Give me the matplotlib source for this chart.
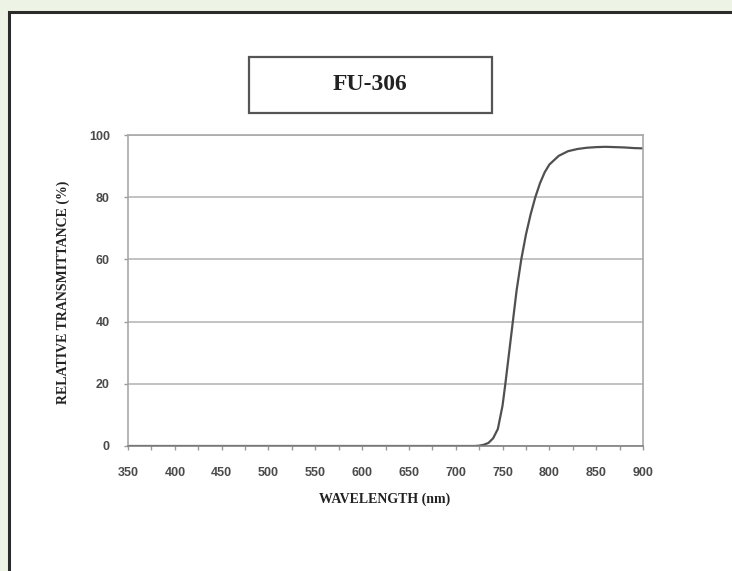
import matplotlib
matplotlib.use('Agg')
import matplotlib.pyplot as plt
from matplotlib.patches import Rectangle
from matplotlib.ticker import MultipleLocator

# transmittance curve
wavelength = [350, 400, 450, 500, 550, 600, 650, 700, 720, 725, 730, 735, 740, 745,
              750, 753, 757, 761, 765, 770, 775, 780, 785, 790, 795, 800, 810,
              820, 830, 840, 850, 860, 870, 880, 890, 900]
transmittance = [0, 0, 0, 0, 0, 0, 0, 0, 0, 0.1, 0.4, 1.0, 2.5, 5.5,
                 13, 20, 30, 40, 50, 60, 68, 74.5, 80, 84.5, 88, 90.5, 93.3,
                 94.8, 95.5, 95.9, 96.1, 96.2, 96.1, 96, 95.8, 95.7]

x_ticks = list(range(350, 901, 50))
y_ticks = [0, 20, 40, 60, 80, 100]

W, H = 732, 571
fig = plt.figure(figsize=(W / 100, H / 100), dpi=100)
fig.patch.set_facecolor('#eef4e5')

# white panel with dark border (runs off right / bottom edge)
fig.add_artist(Rectangle((9 / W, -0.05), 1.0, (H - 12) / H + 0.05,
                         transform=fig.transFigure, facecolor='white',
                         edgecolor='#2b2b2b', linewidth=2.2, zorder=-2))

# title box
fig.add_artist(Rectangle((249 / W, (H - 113) / H), 243 / W, 56 / H,
                         transform=fig.transFigure, facecolor='white',
                         edgecolor='#555555', linewidth=1.6, zorder=-1))
fig.text(370 / W, (H - 84) / H, 'FU-306', ha='center', va='center',
         fontsize=17, fontweight='bold', family='Liberation Serif', color='#222222')

ax = fig.add_axes([128 / W, (H - 446) / H, 515 / W, 311 / H])
ax.set_zorder(1)
ax.plot(wavelength, transmittance, color='#505050', linewidth=1.6)

ax.set_xlim(350, 900)
ax.set_ylim(0, 100)
ax.set_xticks(x_ticks)
ax.set_yticks(y_ticks)
ax.xaxis.set_minor_locator(MultipleLocator(25))
ax.yaxis.grid(True, color='#b8b8b8', linewidth=1.2)
ax.set_axisbelow(True)

for side in ['left', 'bottom', 'right', 'top']:
    ax.spines[side].set_color('#a8a8a8')
    ax.spines[side].set_linewidth(1.2)
ax.spines['bottom'].set_color('#808080')

ax.tick_params(axis='both', which='both', colors='#999999', length=3, width=1,
               labelcolor='#4a4a4a', labelsize=9)
ax.tick_params(axis='x', which='minor', length=3)
ax.tick_params(axis='x', pad=12)
ax.tick_params(axis='y', pad=10)
for lbl in ax.get_xticklabels() + ax.get_yticklabels():
    lbl.set_fontweight('bold')
    lbl.set_family('Liberation Sans')

fig.text(63 / W, (H - 292) / H, 'RELATIVE TRANSMITTANCE (%)', rotation=90,
         ha='center', va='center', fontsize=10, fontweight='bold',
         family='Liberation Serif', color='#222222')
fig.text(385 / W, (H - 499) / H, 'WAVELENGTH (nm)', ha='center', va='center',
         fontsize=10, fontweight='bold', family='Liberation Serif', color='#222222')

fig.savefig('out.png', dpi=100)
